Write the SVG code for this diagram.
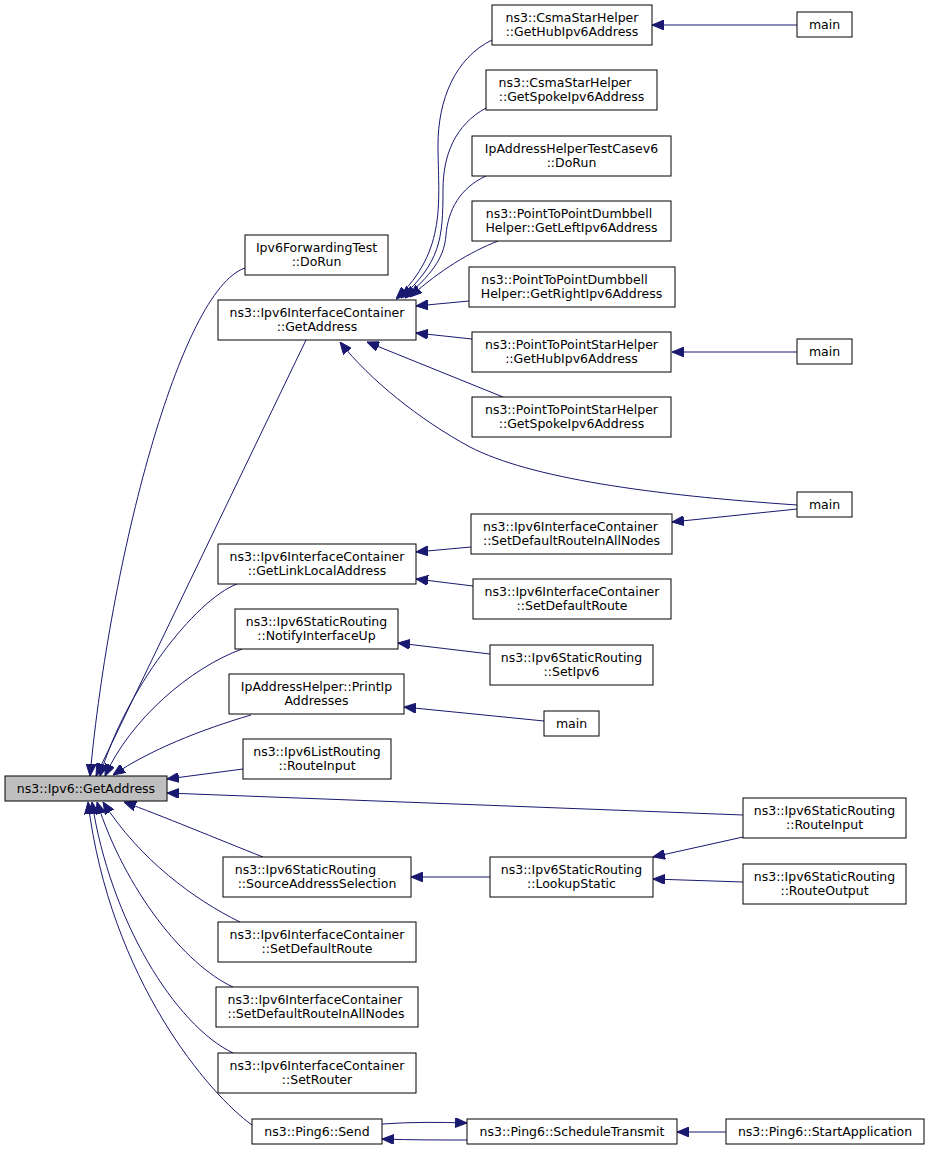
<svg xmlns="http://www.w3.org/2000/svg" width="931" height="1151" viewBox="0 0 931 1151">
<style>
.n rect{fill:#fff;stroke:#000;stroke-width:1}
.n.hl rect{fill:#bfbfbf}
.n text{font-family:"DejaVu Sans","Liberation Sans",sans-serif;font-size:12.5px;fill:#000;text-anchor:middle}
.e path{fill:none;stroke:#191970;stroke-width:1;marker-end:url(#ah)}
</style>
<defs>
<marker id="ah" markerUnits="userSpaceOnUse" markerWidth="12" markerHeight="10" refX="12" refY="5" orient="auto">
<path d="M0,0 L12,5 L0,10 z" fill="#191970" stroke="#191970" stroke-width="1"/>
</marker>
</defs>
<rect width="931" height="1151" fill="#fff"/>
<g id="edges" class="e">
<path d="M245,268 C180,290 110,560 90,776"/>
<path d="M306,340 L96,776"/>
<path d="M237,584 C195,600 125,690 100,776"/>
<path d="M242,649 C190,668 130,720 105,776"/>
<path d="M251,715 C200,730 150,750 113,775"/>
<path d="M243,769 L167,779"/>
<path d="M743,815 L167,793"/>
<path d="M263,857 C220,840 160,815 124,802"/>
<path d="M240,922 C195,900 140,860 103,802"/>
<path d="M233,987 C185,965 125,890 97,802"/>
<path d="M233,1053 C175,1025 110,920 92,802"/>
<path d="M252,1125 C210,1095 110,980 88,802"/>
<path d="M492,40 C455,58 438,100 438,145 C438,200 448,250 396,299"/>
<path d="M486,108 C455,125 443,155 443,190 C443,240 440,262 401,298"/>
<path d="M486,176 C460,188 448,210 446,235 C444,260 430,275 405,298"/>
<path d="M498,241 C470,252 440,270 410,297"/>
<path d="M469,301 L416,306"/>
<path d="M472,339 L416,333"/>
<path d="M503,397 L367,342"/>
<path d="M797,505 C650,495 530,478 470,447 C420,420 370,380 340,342"/>
<path d="M797,25 L652,25"/>
<path d="M797,352 L672,352"/>
<path d="M797,509 L672,522"/>
<path d="M471,547 L416,552"/>
<path d="M473,586 L416,579"/>
<path d="M490,654 L398,643"/>
<path d="M544,721 L404,707"/>
<path d="M490,877 L411,877"/>
<path d="M743,837 L653,857"/>
<path d="M743,882 L653,879"/>
<path d="M382,1124 C410,1122 440,1122 467,1123"/>
<path d="M467,1140 C440,1140 410,1140 382,1139"/>
<path d="M726,1132 L677,1132"/>
</g>
<g id="n_main" class="n hl"><rect x="5" y="776" width="162" height="25"/><text x="86" y="793">ns3::Ipv6::GetAddress</text></g>
<g id="n_fwd" class="n"><rect x="245" y="235" width="143" height="40"/><text x="316.5" y="251.5">Ipv6ForwardingTest</text><text x="316.5" y="266">::DoRun</text></g>
<g id="n_cgetaddr" class="n"><rect x="218" y="300" width="198" height="40"/><text x="317" y="316.5">ns3::Ipv6InterfaceContainer</text><text x="317" y="331">::GetAddress</text></g>
<g id="n_linklocal" class="n"><rect x="218" y="544" width="198" height="40"/><text x="317" y="560.5">ns3::Ipv6InterfaceContainer</text><text x="317" y="575">::GetLinkLocalAddress</text></g>
<g id="n_notify" class="n"><rect x="235" y="609" width="163" height="40"/><text x="316.5" y="625.5">ns3::Ipv6StaticRouting</text><text x="316.5" y="640">::NotifyInterfaceUp</text></g>
<g id="n_printip" class="n"><rect x="229" y="674" width="175" height="40"/><text x="316.5" y="690.5">IpAddressHelper::PrintIp</text><text x="316.5" y="705">Addresses</text></g>
<g id="n_listri" class="n"><rect x="243" y="739" width="148" height="40"/><text x="317" y="755.5">ns3::Ipv6ListRouting</text><text x="317" y="770">::RouteInput</text></g>
<g id="n_source" class="n"><rect x="223" y="857" width="188" height="40"/><text x="305.5" y="873.5">ns3::Ipv6StaticRouting</text><text x="317" y="888">::SourceAddressSelection</text></g>
<g id="n_sdr_l" class="n"><rect x="218" y="922" width="198" height="40"/><text x="317" y="938.5">ns3::Ipv6InterfaceContainer</text><text x="317" y="953">::SetDefaultRoute</text></g>
<g id="n_sdrall_l" class="n"><rect x="216" y="987" width="202" height="40"/><text x="315" y="1003.5">ns3::Ipv6InterfaceContainer</text><text x="316" y="1018">::SetDefaultRouteInAllNodes</text></g>
<g id="n_setrouter" class="n"><rect x="218" y="1053" width="198" height="40"/><text x="317" y="1069.5">ns3::Ipv6InterfaceContainer</text><text x="317" y="1084">::SetRouter</text></g>
<g id="n_send" class="n"><rect x="252" y="1119" width="130" height="25"/><text x="317" y="1136">ns3::Ping6::Send</text></g>
<g id="n_csmahub" class="n"><rect x="492" y="5" width="160" height="40"/><text x="572" y="21.5">ns3::CsmaStarHelper</text><text x="572" y="36">::GetHubIpv6Address</text></g>
<g id="n_csmaspoke" class="n"><rect x="486" y="70" width="171" height="40"/><text x="565" y="86.5">ns3::CsmaStarHelper</text><text x="571.5" y="101">::GetSpokeIpv6Address</text></g>
<g id="n_testcase" class="n"><rect x="472" y="136" width="199" height="40"/><text x="571.5" y="152.5">IpAddressHelperTestCasev6</text><text x="571.5" y="167">::DoRun</text></g>
<g id="n_dumbleft" class="n"><rect x="472" y="201" width="199" height="40"/><text x="569" y="217.5">ns3::PointToPointDumbbell</text><text x="571.5" y="232">Helper::GetLeftIpv6Address</text></g>
<g id="n_dumbright" class="n"><rect x="469" y="267" width="206" height="40"/><text x="564.5" y="283.5">ns3::PointToPointDumbbell</text><text x="571.5" y="298">Helper::GetRightIpv6Address</text></g>
<g id="n_p2phub" class="n"><rect x="472" y="332" width="199" height="40"/><text x="571.5" y="348.5">ns3::PointToPointStarHelper</text><text x="571.5" y="363">::GetHubIpv6Address</text></g>
<g id="n_p2pspoke" class="n"><rect x="472" y="397" width="199" height="40"/><text x="571.5" y="413.5">ns3::PointToPointStarHelper</text><text x="571.5" y="428">::GetSpokeIpv6Address</text></g>
<g id="n_sdrall_r" class="n"><rect x="471" y="514" width="201" height="40"/><text x="570.5" y="530.5">ns3::Ipv6InterfaceContainer</text><text x="571.5" y="545">::SetDefaultRouteInAllNodes</text></g>
<g id="n_sdr_r" class="n"><rect x="473" y="579" width="198" height="40"/><text x="572" y="595.5">ns3::Ipv6InterfaceContainer</text><text x="572" y="610">::SetDefaultRoute</text></g>
<g id="n_setipv6" class="n"><rect x="490" y="645" width="163" height="40"/><text x="571.5" y="661.5">ns3::Ipv6StaticRouting</text><text x="571.5" y="676">::SetIpv6</text></g>
<g id="n_main_mid" class="n"><rect x="544" y="711" width="55" height="25"/><text x="571.5" y="728">main</text></g>
<g id="n_lookup" class="n"><rect x="490" y="857" width="163" height="40"/><text x="571.5" y="873.5">ns3::Ipv6StaticRouting</text><text x="571.5" y="888">::LookupStatic</text></g>
<g id="n_schedule" class="n"><rect x="467" y="1119" width="210" height="25"/><text x="572" y="1136">ns3::Ping6::ScheduleTransmit</text></g>
<g id="n_main_top" class="n"><rect x="797" y="12" width="55" height="25"/><text x="824.5" y="29">main</text></g>
<g id="n_main2" class="n"><rect x="797" y="339" width="55" height="25"/><text x="824.5" y="356">main</text></g>
<g id="n_main3" class="n"><rect x="797" y="492" width="55" height="25"/><text x="824.5" y="509">main</text></g>
<g id="n_routeinput" class="n"><rect x="743" y="798" width="163" height="40"/><text x="824.5" y="814.5">ns3::Ipv6StaticRouting</text><text x="824.5" y="829">::RouteInput</text></g>
<g id="n_routeoutput" class="n"><rect x="743" y="864" width="163" height="40"/><text x="824.5" y="880.5">ns3::Ipv6StaticRouting</text><text x="824.5" y="895">::RouteOutput</text></g>
<g id="n_startapp" class="n"><rect x="726" y="1119" width="198" height="25"/><text x="825" y="1136">ns3::Ping6::StartApplication</text></g>
</svg>
